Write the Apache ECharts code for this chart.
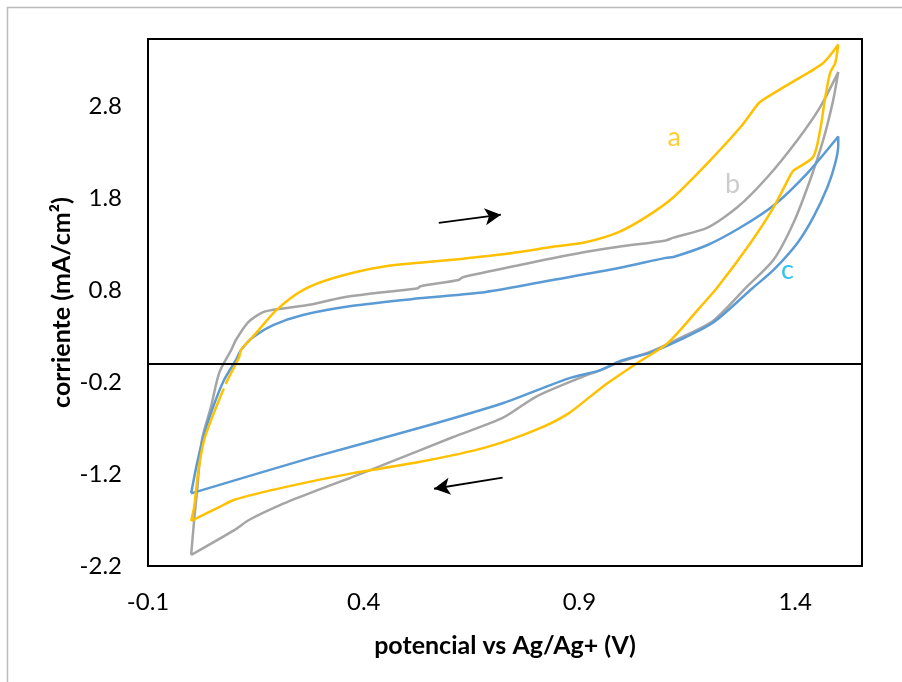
<!DOCTYPE html>
<html>
<head>
<meta charset="utf-8">
<script src="https://cdn.jsdelivr.net/npm/echarts@6/dist/echarts.min.js"></script>
<style>html,body{margin:0;padding:0;background:#fff;}#c{width:902px;height:682px;}</style>
</head>
<body>
<div id="c"></div>
<script>
// Tick labels
const xTicks = [-0.1, 0.4, 0.9, 1.4];
const yTicks = [-2.2, -1.2, -0.2, 0.8, 1.8, 2.8];

// Curve a (yellow) - potential (V) and current (mA/cm2); null = gap
const potA = [0.000,0.007,0.016,0.030,0.049,0.072,0.076,null,0.080,0.088,0.111,0.116,0.150,0.197,0.259,0.336,0.451,0.606,0.722,0.838,0.914,0.991,1.053,1.118,1.197,1.273,1.315,1.326,1.389,1.465,1.500,
  1.493,1.481,1.470,1.458,1.442,1.396,1.393,1.389,1.350,1.296,1.220,1.181,1.104,1.035,0.954,0.875,0.799,0.683,0.528,0.375,0.220,0.100,0.065,0.000];
const curA = [-1.71,-1.56,-1.19,-0.83,-0.58,-0.31,-0.27,null,-0.22,-0.145,0.07,0.15,0.33,0.58,0.80,0.94,1.06,1.13,1.19,1.27,1.32,1.43,1.59,1.81,2.18,2.57,2.83,2.87,3.05,3.27,3.47,
  3.27,3.16,2.90,2.54,2.25,2.10,2.08,2.05,1.70,1.31,0.83,0.62,0.22,0.01,-0.25,-0.54,-0.72,-0.91,-1.07,-1.19,-1.34,-1.48,-1.56,-1.71];

// Curve b (gray)
const potB = [0.000,0.007,0.014,0.025,0.046,0.065,0.093,0.104,0.132,0.167,0.213,0.273,0.352,0.451,0.526,0.530,0.620,0.630,0.759,0.898,0.991,1.100,1.118,1.197,1.266,1.336,1.405,1.458,1.500,
  1.488,1.465,1.435,1.396,1.350,1.289,1.211,1.134,1.065,0.995,0.949,0.898,0.799,0.722,0.606,0.451,0.370,0.296,0.215,0.134,0.100,0.000];
const curB = [-2.08,-1.70,-1.37,-0.83,-0.47,-0.10,0.15,0.26,0.45,0.56,0.60,0.64,0.72,0.78,0.82,0.84,0.91,0.94,1.07,1.20,1.27,1.34,1.37,1.48,1.70,2.03,2.43,2.79,3.17,
  2.86,2.43,2.00,1.53,1.13,0.84,0.47,0.28,0.13,0.02,-0.07,-0.16,-0.36,-0.59,-0.80,-1.09,-1.24,-1.37,-1.52,-1.70,-1.81,-2.08];

// Curve c (blue)
const potC = [0.000,0.012,0.028,0.051,0.076,0.104,0.116,0.144,0.190,0.259,0.375,0.528,0.683,0.838,0.991,1.100,1.118,1.197,1.273,1.350,1.428,1.500,
  1.500,1.493,1.475,1.442,1.405,1.350,1.301,1.211,1.134,1.065,0.995,0.949,0.875,0.722,0.528,0.273,0.000];
const curC = [-1.41,-1.12,-0.80,-0.47,-0.18,0.04,0.15,0.29,0.42,0.53,0.63,0.71,0.78,0.91,1.04,1.15,1.16,1.29,1.48,1.72,2.07,2.47,
  2.38,2.18,1.92,1.59,1.31,1.02,0.82,0.45,0.26,0.12,0.03,-0.07,-0.16,-0.43,-0.70,-1.03,-1.41];

// Curve labels
const labelNames = ['a','b','c'];
const labelPot = [1.120, 1.255, 1.382];
const labelCur = [2.46, 1.95, 1.02];

// Scan direction arrows [fromPot, fromCur, toPot, toCur]
const arrowFwd = [0.574, 1.53, 0.718, 1.62];
const arrowRev = [0.722, -1.24, 0.563, -1.36];

function zip(xs, ys) {
  return xs.map((x, i) => (x === null || ys[i] === null) ? ['-', '-'] : [x, ys[i]]);
}

const colA = '#FFC000', colB = '#A5A5A5', colC = '#5B9BD5';
const font = 'Lato, "Open Sans", sans-serif';

function fmt(ticks) {
  return function (v) {
    for (const t of ticks) if (Math.abs(v - t) < 1e-6) return t.toFixed(1);
    return '';
  };
}

function arrowLine(a) {
  return [{ coord: [a[0], a[1]], symbol: 'none' }, { coord: [a[2], a[3]], symbol: 'arrow' }];
}

const SM = 0.25;
const chart = echarts.init(document.getElementById('c'), null, { renderer: 'canvas' });
chart.setOption({
  animation: false,
  backgroundColor: '#fff',
  graphic: [{
    type: 'polyline', shape: { points: [[7.5, 690], [7.5, 7.5], [910, 7.5]] },
    style: { fill: 'none', stroke: '#BBBBBB', lineWidth: 1.5 }, silent: true, z: -1
  }],
  grid: { left: 148, top: 39, right: 40, bottom: 116, show: true, borderColor: '#000', borderWidth: 2, backgroundColor: 'transparent' },
  xAxis: {
    type: 'value', min: -0.1, max: 1.555, interval: 0.5,
    name: 'potencial vs Ag/Ag+ (V)', nameLocation: 'middle', nameGap: 67,
    nameTextStyle: { fontFamily: font, fontSize: 25, fontWeight: 'bold', color: '#000' },
    axisLine: { show: false }, axisTick: { show: false }, splitLine: { show: false },
    axisLabel: { formatter: fmt(xTicks), fontFamily: font, fontSize: 24, color: '#000', margin: 24 }
  },
  yAxis: {
    type: 'value', min: -2.2, max: 3.53, interval: 1,
    name: 'corriente (mA/cm²)', nameLocation: 'middle', nameGap: 74, nameRotate: 90, nameMoveOverlap: false,
    nameTextStyle: { fontFamily: font, fontSize: 25, fontWeight: 'bold', color: '#000' },
    axisLine: { show: false }, axisTick: { show: false }, splitLine: { show: false },
    axisLabel: { formatter: fmt(yTicks), fontFamily: font, fontSize: 24, color: '#000', margin: 26 }
  },
  series: [
    {
      name: 'b', type: 'line', data: zip(potB, curB), showSymbol: false, symbol: 'none', smooth: SM,
      lineStyle: { color: colB, width: 2.5 }, z: 2,
      markLine: {
        silent: true, symbol: 'none', label: { show: false },
        lineStyle: { color: '#000', width: 2, type: 'solid' },
        data: [{ yAxis: 0 }]
      }
    },
    {
      name: 'c', type: 'line', data: zip(potC, curC), showSymbol: false, symbol: 'none', smooth: SM,
      lineStyle: { color: colC, width: 2.5 }, z: 3
    },
    {
      name: 'a', type: 'line', data: zip(potA, curA), showSymbol: false, symbol: 'none', connectNulls: false, smooth: SM,
      lineStyle: { color: colA, width: 2.5 }, z: 4,
      markLine: {
        silent: true, symbolSize: [13, 16], label: { show: false },
        lineStyle: { color: '#000', width: 1.8, type: 'solid' },
        data: [arrowLine(arrowFwd), arrowLine(arrowRev)]
      }
    },
    {
      name: 'labels', type: 'scatter', symbolSize: 0, silent: true,
      data: labelNames.map((n, i) => ({
        value: [labelPot[i], labelCur[i]],
        label: { show: true, position: 'inside', formatter: n, fontFamily: font, fontSize: 27,
          color: [colA, '#BFBFBF', '#00B0F0'][i] }
      })),
      z: 5
    }
  ]
});
</script>
</body>
</html>
